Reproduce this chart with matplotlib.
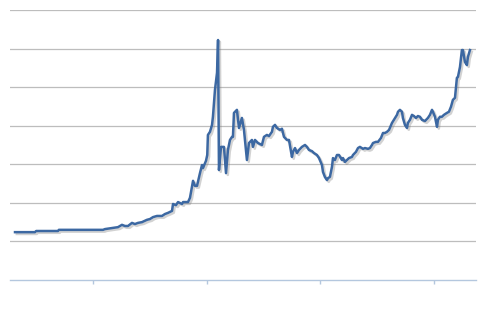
import numpy as np
import matplotlib
matplotlib.use('Agg')
from matplotlib import pyplot as plt
import matplotlib.patheffects as pe

# values (year offset from 1980, value)
year_offset = [-6.86, -5.10, -5.00, -3.08, -3.00, 0.88, 1.06, 1.76, 2.20, 2.55,
               2.81, 3.08, 3.43, 3.69, 3.96, 4.31, 4.75, 5.01, 5.28, 5.63,
               6.07, 6.33, 6.60, 6.95, 7.04, 7.30, 7.48, 7.83, 7.92, 8.36,
               8.53, 8.80, 8.97, 9.15, 9.41, 9.59, 9.67, 9.94, 10.05, 10.11,
               10.29, 10.47, 10.55, 10.73, 10.91, 11.00, 11.08, 11.26, 11.52, 11.70,
               11.87, 12.05, 12.23, 12.31, 12.40, 12.66, 12.84, 13.10, 13.28, 13.54,
               13.72, 13.98, 14.07, 14.25, 14.51, 14.86, 15.04, 15.30, 15.48, 15.74,
               15.83, 16.01, 16.18, 16.45, 16.62, 16.80, 17.06, 17.24, 17.50, 17.59,
               17.77, 17.94, 18.12, 18.38, 18.65, 18.82, 19.00, 19.26, 19.44, 19.70,
               19.88, 20.14, 20.23, 20.40, 20.58, 20.67, 20.84, 21.02, 21.11, 21.28,
               21.46, 21.64, 21.90, 21.99, 22.16, 22.34, 22.52, 22.78, 22.87, 23.13,
               23.31, 23.48, 23.75, 23.92, 24.19, 24.36, 24.54, 24.63, 24.89, 25.07,
               25.33, 25.51, 25.68, 25.86, 26.04, 26.30, 26.47, 26.74, 26.83, 27.00,
               27.18, 27.26, 27.44, 27.62, 27.70, 27.88, 28.06, 28.23, 28.41, 28.58,
               28.76, 28.94, 29.20, 29.46, 29.64, 29.82, 29.90, 30.08, 30.26, 30.34,
               30.52, 30.69, 30.87, 31.13, 31.31, 31.49, 31.66, 31.84, 32.01, 32.10,
               32.28, 32.45, 32.54, 32.72, 32.89, 32.98, 33.16]
value = [124, 124, 127, 127, 130, 130, 132, 135, 137, 143,
         140, 140, 148, 145, 148, 150, 156, 158, 163, 166,
         166, 171, 174, 179, 197, 194, 202, 197, 202, 202,
         213, 257, 244, 244, 277, 298, 290, 309, 324, 376,
         384, 402, 423, 493, 537, 622, 285, 345, 345, 277,
         337, 363, 371, 371, 433, 441, 394, 420, 389, 311,
         355, 363, 345, 363, 355, 350, 371, 376, 373, 384,
         397, 402, 394, 389, 392, 371, 363, 363, 319, 332,
         342, 329, 337, 345, 350, 345, 337, 334, 329, 324,
         316, 298, 280, 267, 259, 264, 267, 293, 316, 311,
         324, 324, 311, 316, 306, 311, 316, 319, 324, 332,
         342, 345, 340, 342, 340, 342, 350, 355, 358, 358,
         368, 381, 381, 384, 389, 407, 415, 428, 436, 441,
         436, 420, 402, 394, 407, 415, 428, 425, 420, 425,
         423, 415, 412, 420, 428, 441, 436, 423, 397, 415,
         423, 423, 428, 433, 436, 449, 467, 472, 524, 526,
         552, 596, 596, 565, 557, 578, 596]

base_year = 1980
tick_years = [1980, 1990, 2000, 2010]


def main():
    fig, ax = setup_figure()
    x = base_year + np.array(year_offset)
    ax.plot(x, value, color='#3C68A2', lw=1.8, solid_joinstyle='round',
            path_effects=[pe.SimpleLineShadow(offset=(1.3, -1.3), shadow_color='#7f7f7f', alpha=0.35),
                          pe.Normal()])
    plt.savefig('out.png', dpi=100)


def setup_figure():
    fig = plt.figure(figsize=(5, 3.2), dpi=100)
    ax = fig.add_axes([0.02, 0.125, 0.932, 0.844])
    ax.set_xlim(base_year - 7.3, base_year + 33.69)
    ax.set_ylim(0, 700)
    ax.set_yticks(np.arange(100, 701, 100))
    ax.set_xticks(tick_years)
    ax.set_xticklabels([])
    ax.set_yticklabels([])
    ax.grid(axis='y', color='#BDBDBD', lw=0.9)
    ax.set_axisbelow(True)
    for s in ['top', 'right', 'left']:
        ax.spines[s].set_visible(False)
    ax.spines['bottom'].set_color('#B4C7DE')
    ax.spines['bottom'].set_linewidth(1.0)
    ax.tick_params(axis='x', direction='out', length=3, color='#B4C7DE', width=1.0)
    ax.tick_params(axis='y', length=0)
    return fig, ax


main()
